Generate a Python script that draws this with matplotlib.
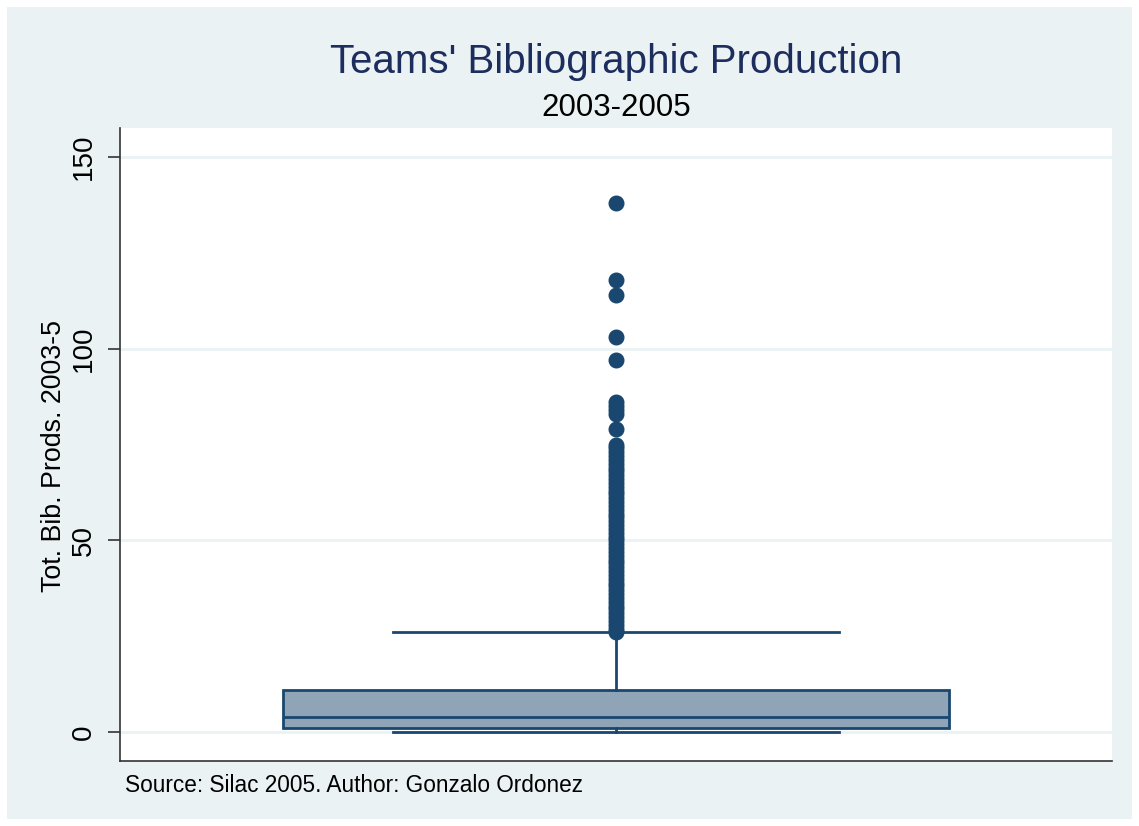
import matplotlib
matplotlib.use("Agg")
import matplotlib.pyplot as plt
from matplotlib.patches import Rectangle

# ---- data ----
q1 = 1
median = 4
q3 = 11
whisker_low = 0
whisker_high = 26
outliers = list(range(26, 76)) + [79, 83, 84, 85, 86, 97, 103, 114, 118, 138]
y_ticks = [0, 50, 100, 150]
title = "Teams' Bibliographic Production"
subtitle = "2003-2005"
ylabel = "Tot. Bib. Prods. 2003-5"
note = "Source: Silac 2005. Author: Gonzalo Ordonez"

navy = "#1a476f"
title_color = "#1c2d5e"
boxfill = "#90a4b8"
bg = "#eaf2f3"

plt.rcParams['font.family'] = ['Liberation Sans', 'DejaVu Sans']

fig = plt.figure(figsize=(11.39, 8.26), dpi=100)
fig.patch.set_facecolor("white")
fig.patches.append(Rectangle((7/1139, 7/826), 1 - 14/1139, 1 - 14/826,
                             transform=fig.transFigure, facecolor=bg,
                             edgecolor="none", zorder=-10))

ax = fig.add_axes([120/1139, 1 - 761/826, (1112 - 120)/1139, (761 - 128)/826])
ax.set_facecolor("white")

stats = [dict(med=median, q1=q1, q3=q3, whislo=whisker_low, whishi=whisker_high,
              fliers=outliers)]
ax.bxp(stats, positions=[1], widths=1.343, capwidths=0.901, patch_artist=True,
       boxprops=dict(facecolor=boxfill, edgecolor=navy, linewidth=2),
       medianprops=dict(color=navy, linewidth=2),
       whiskerprops=dict(color=navy, linewidth=2),
       capprops=dict(color=navy, linewidth=2),
       flierprops=dict(marker='o', markerfacecolor=navy, markeredgecolor=navy,
                       markersize=10.5, linestyle='none'))

ax.set_xlim(0, 2)
ax.set_ylim(-7.57, 157.6)
ax.set_xticks([])
ax.set_yticks(y_ticks)
ax.set_yticklabels([str(t) for t in y_ticks], rotation=90, va='center', fontsize=20)
ax.tick_params(axis='y', length=9, width=1.2, color='#333333', pad=8)
ax.grid(axis='y', color=bg, linewidth=2)
ax.set_axisbelow(True)
for s in ['top', 'right']:
    ax.spines[s].set_visible(False)
for s in ['left', 'bottom']:
    ax.spines[s].set_color('#333333')
    ax.spines[s].set_linewidth(1.2)

ax.set_ylabel(ylabel, fontsize=19.3)
ax.yaxis.set_label_coords(-0.053, 0.482)

fig.text(616/1139, 1 - 62/826, title, ha='center', va='center', fontsize=29, color=title_color)
fig.text(616/1139, 1 - 108/826, subtitle, ha='center', va='center', fontsize=22.5, color='black')
fig.text(125/1139, 1 - 786/826, note, ha='left', va='center', fontsize=16.3, color='black')

fig.savefig("out.png", dpi=100)
